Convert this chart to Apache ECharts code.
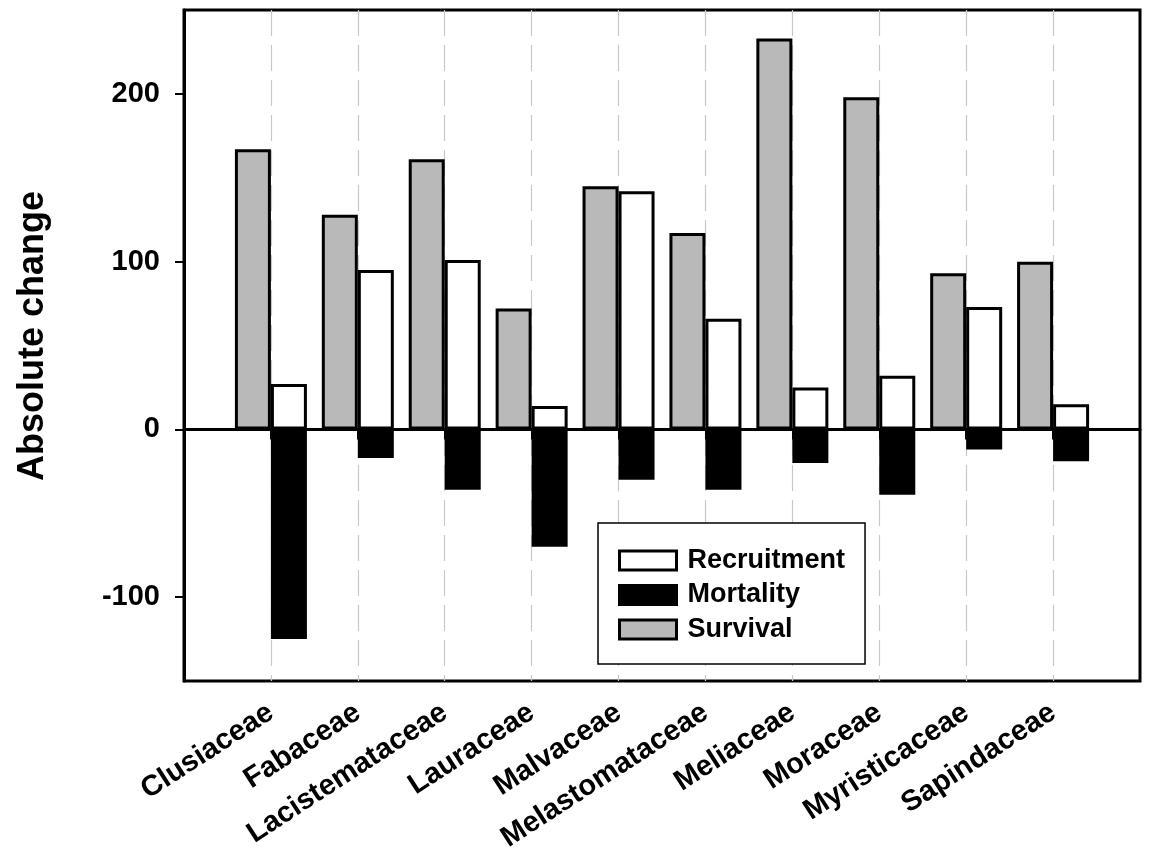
<!DOCTYPE html>
<html>
<head>
<meta charset="utf-8">
<script src="https://cdn.jsdelivr.net/npm/echarts@6/dist/echarts.min.js"></script>
<style>
  html, body { margin: 0; padding: 0; background: #fff; }
  #chart { width: 1150px; height: 852px; }
</style>
</head>
<body>
<div id="chart"></div>
<script>
// Plant families along the x axis
const families = ['Clusiaceae', 'Fabaceae', 'Lacistemataceae', 'Lauraceae', 'Malvaceae',
                  'Melastomataceae', 'Meliaceae', 'Moraceae', 'Myristicaceae', 'Sapindaceae'];
// Absolute change per family
const survival    = [167, 128, 161, 72, 145, 117, 233, 198, 93, 100];
const recruitment = [27, 95, 101, 14, 142, 66, 25, 32, 73, 15];
const mortality   = [-125, -17, -36, -70, -30, -36, -20, -39, -12, -19];
// Y axis tick values
const yTicks = [-100, 0, 100, 200];

const FONT = "'Liberation Sans', Arial, sans-serif";

// One empty slot on each side keeps the families off the frame
const axisCats = [''].concat(families, ['']);
const pad = arr => [null].concat(arr, [null]);
const inner = idx => idx > 0 && idx < axisCats.length - 1;

const chart = echarts.init(document.getElementById('chart'), null, { renderer: 'canvas' });

chart.setOption({
  animation: false,
  backgroundColor: '#fff',
  grid: {
    left: 184, right: 10, top: 10, bottom: 171,
    containLabel: false, outerBoundsMode: 'none',
    show: true, borderColor: '#000', borderWidth: 3, backgroundColor: 'transparent'
  },
  xAxis: {
    type: 'category',
    data: axisCats,
    boundaryGap: false,
    axisLine: { lineStyle: { color: '#000', width: 3 } },
    axisTick: { show: true, length: 10, interval: inner, lineStyle: { color: '#000', width: 2 } },
    splitLine: {
      show: true, interval: inner,
      lineStyle: { color: '#c8c8c8', width: 1.2, type: [26, 9] }
    },
    axisLabel: {
      interval: 0, rotate: 33, margin: 29,
      color: '#000', fontFamily: FONT, fontWeight: 'bold', fontSize: 29
    }
  },
  yAxis: {
    type: 'value',
    min: -150, max: 250,
    axisLine: { show: true, lineStyle: { color: '#000', width: 3 } },
    axisTick: { show: true, customValues: yTicks, length: 9, lineStyle: { color: '#000', width: 2 } },
    axisLabel: {
      customValues: yTicks, margin: 24,
      color: '#000', fontFamily: FONT, fontWeight: 'bold', fontSize: 29
    },
    splitLine: { show: false }
  },
  legend: {
    orient: 'vertical',
    left: 598, top: 523,
    data: ['Recruitment', 'Mortality', 'Survival'],
    icon: 'rect',
    backgroundColor: '#fff',
    borderColor: '#000', borderWidth: 1.5,
    padding: [24, 20, 21, 20],
    itemWidth: 57, itemHeight: 19, itemGap: 7.5,
    selectedMode: false,
    itemStyle: { borderColor: '#000', borderWidth: 3 },
    textStyle: {
      color: '#000', fontFamily: FONT, fontWeight: 'bold', fontSize: 27,
      lineHeight: 27, padding: [0, 0, 0, 6]
    }
  },
  graphic: [{
    type: 'text',
    x: 33, y: 336,
    rotation: Math.PI / 2,
    style: {
      text: 'Absolute change',
      fill: '#000', font: "bold 36px 'Liberation Sans', Arial, sans-serif",
      textAlign: 'center', textVerticalAlign: 'middle'
    }
  }],
  series: [
    {
      name: 'Survival', type: 'bar',
      data: pad(survival),
      barWidth: 36, barGap: '0%',
      itemStyle: { color: '#b9b9b9', borderColor: '#000', borderWidth: 3 },
      markLine: {
        silent: true, symbol: 'none', animation: false,
        label: { show: false },
        lineStyle: { color: '#000', width: 1.5, type: 'solid' },
        data: [{ yAxis: 0 }]
      },
      z: 3
    },
    {
      name: 'Recruitment', type: 'bar', stack: 'change',
      data: pad(recruitment),
      barWidth: 36, barGap: '0%',
      itemStyle: { color: '#fff', borderColor: '#000', borderWidth: 3 },
      z: 3
    },
    {
      name: 'Mortality', type: 'bar', stack: 'change',
      data: pad(mortality),
      barWidth: 36, barGap: '0%',
      itemStyle: { color: '#000', borderColor: '#000', borderWidth: 3 },
      z: 3
    }
  ]
});
</script>
</body>
</html>
